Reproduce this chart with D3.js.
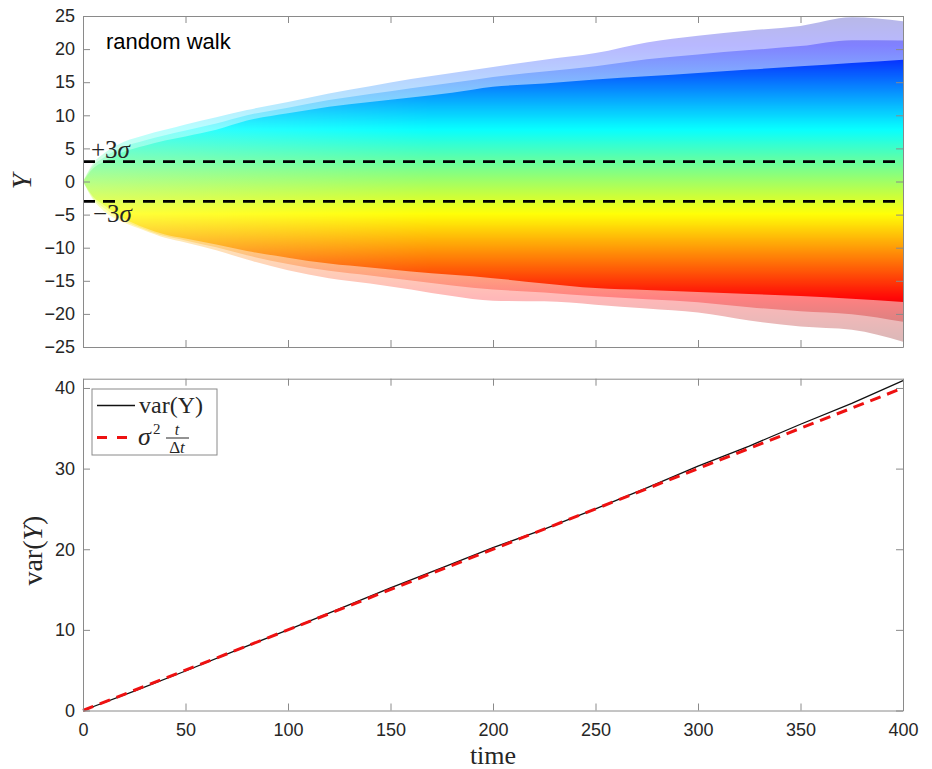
<!DOCTYPE html>
<html>
<head>
<meta charset="utf-8">
<script src="https://d3js.org/d3.v7.min.js"></script>
<style>
  body { margin: 0; background: #fff; }
  .tick text { fill: #262626; font-family: "Liberation Sans", Arial, sans-serif; font-size: 18px; }
  .tick line, .domain { stroke: #8a8a8a; }
  .serif { font-family: "Liberation Serif", "Times New Roman", serif; fill: #262626; }
</style>
</head>
<body>
<script>

// ---- data ----
// time grid used for the fan of random-walk paths
var tGrid = [0, 5, 10, 20, 30, 40, 50, 65, 80, 100, 120, 140, 160, 180, 200, 225, 250, 275, 300, 325, 350, 375, 400];
// outermost paths (sparse lines)
var upperMax = [0, 2.8, 4.2, 6.0, 7.0, 7.8, 8.6, 9.7, 10.8, 12.0, 13.3, 14.4, 15.5, 16.4, 17.3, 18.4, 19.4, 21.0, 22.0, 22.8, 23.5, 24.8, 24.2];
var lowerMin = [0, -2.8, -4.4, -6.2, -7.4, -8.5, -9.2, -10.4, -11.8, -13.4, -14.6, -15.4, -16.3, -17.3, -18.0, -18.1, -18.6, -19.2, -19.8, -21.0, -21.9, -22.4, -24.2];
// edge of the dense (solid colour) part
var upperDense = [0, 2.0, 3.0, 4.5, 5.4, 6.2, 6.8, 7.8, 9.2, 10.3, 11.3, 12.0, 12.7, 13.4, 14.3, 14.8, 15.4, 15.9, 16.4, 16.9, 17.4, 17.9, 18.4];
var lowerDense = [0, -2.3, -3.5, -5.6, -7.0, -8.0, -8.6, -9.5, -10.5, -11.5, -12.4, -13.0, -13.6, -14.1, -14.6, -15.4, -16.1, -16.4, -16.7, -17.0, -17.3, -17.7, -18.2];
// colour limits of the jet map (final values, top -> bottom)
var colorLimits = [27, -24];
var sigmaLevels = [3, -3];

// variance panel
var varTime = [0, 25, 50, 75, 100, 125, 150, 175, 200, 225, 250, 275, 300, 325, 350, 375, 400];
var varY = [0, 2.4, 4.9, 7.5, 10.0, 12.6, 15.2, 17.7, 20.2, 22.5, 25.0, 27.6, 30.3, 32.8, 35.5, 38.1, 40.9];
var theoryTime = [0, 400];
var theoryVar = [0, 40];

var xTicks = [0, 50, 100, 150, 200, 250, 300, 350, 400];
var yTicksTop = [-25, -20, -15, -10, -5, 0, 5, 10, 15, 20, 25];
var yTicksBot = [0, 10, 20, 30, 40];

// jet colormap stops
var jetStops = [[0, "#000080"], [0.125, "#0000ff"], [0.375, "#00ffff"], [0.625, "#ffff00"], [0.875, "#ff0000"], [1, "#800000"]];

// ---- layout ----
var W = 932, H = 769;
var left = 83, right = 903;
var topPanel = {t: 16, b: 347};
var botPanel = {t: 378.7, b: 710.5};

var svg = d3.select("body").append("svg")
    .attr("width", W)
    .attr("height", H);

var x = d3.scaleLinear().domain([0, 400]).range([left, right]);
var yTop = d3.scaleLinear().domain([-25, 25]).range([topPanel.b, topPanel.t]);
var yBot = d3.scaleLinear().domain([0, 41.15]).range([botPanel.b, botPanel.t]);

var defs = svg.append("defs");

// vertical jet gradient mapped onto Y values
var grad = defs.append("linearGradient")
    .attr("id", "jet")
    .attr("gradientUnits", "userSpaceOnUse")
    .attr("x1", 0).attr("x2", 0)
    .attr("y1", yTop(colorLimits[0]))
    .attr("y2", yTop(colorLimits[1]));
jetStops.forEach(function(s) {
  grad.append("stop").attr("offset", s[0]).attr("stop-color", s[1]);
});

// fade the dense part near the start (mixed thin lines look paler there)
var fade = defs.append("linearGradient")
    .attr("id", "fade")
    .attr("gradientUnits", "userSpaceOnUse")
    .attr("x1", x(0)).attr("x2", x(170))
    .attr("y1", 0).attr("y2", 0);
fade.append("stop").attr("offset", 0).attr("stop-color", "#fff").attr("stop-opacity", 0.5);
fade.append("stop").attr("offset", 1).attr("stop-color", "#fff").attr("stop-opacity", 0.95);
defs.append("mask").attr("id", "fadeMask")
  .append("rect")
    .attr("x", 0).attr("y", 0).attr("width", W).attr("height", H)
    .attr("fill", "url(#fade)");

defs.append("clipPath").attr("id", "clipTop")
  .append("rect")
    .attr("x", left).attr("y", topPanel.t)
    .attr("width", right - left).attr("height", topPanel.b - topPanel.t);

// ---- top panel: random walk fan ----
var fan = svg.append("g").attr("clip-path", "url(#clipTop)");

function band(hi, lo) {
  return d3.area()
      .curve(d3.curveMonotoneX)
      .x(function(d, i) { return x(tGrid[i]); })
      .y0(function(d, i) { return yTop(lo[i]); })
      .y1(function(d, i) { return yTop(hi[i]); })(tGrid);
}

var midUp = upperMax.map(function(v, i) { return (v + upperDense[i]) / 2; });
var midLo = lowerMin.map(function(v, i) { return (v + lowerDense[i]) / 2; });

fan.append("path")
    .attr("d", band(upperMax, lowerMin))
    .attr("fill", "url(#jet)")
    .attr("opacity", 0.28);
fan.append("path")
    .attr("d", band(midUp, midLo))
    .attr("fill", "url(#jet)")
    .attr("opacity", 0.3);
fan.append("path")
    .attr("d", band(upperDense, lowerDense))
    .attr("fill", "url(#jet)")
    .attr("mask", "url(#fadeMask)");

// +-3 sigma lines
svg.selectAll(".sig")
    .data(sigmaLevels)
  .enter().append("line")
    .attr("x1", left).attr("x2", right)
    .attr("y1", function(d) { return yTop(d); })
    .attr("y2", function(d) { return yTop(d); })
    .attr("stroke", "#000")
    .attr("stroke-width", 2.6)
    .attr("stroke-dasharray", "12,8");

// axes of top panel (ticks point inward, box on)
svg.append("g")
    .attr("transform", "translate(" + left + ",0)")
    .call(d3.axisLeft(yTop).tickValues(yTicksTop).tickSizeInner(-7).tickSizeOuter(0).tickPadding(8));
svg.append("g")
    .attr("transform", "translate(" + right + ",0)")
    .call(d3.axisRight(yTop).tickValues(yTicksTop).tickSizeInner(-7).tickSizeOuter(0).tickFormat(""));
svg.append("g")
    .attr("transform", "translate(0," + topPanel.b + ")")
    .call(d3.axisBottom(x).tickValues(xTicks).tickSizeInner(-7).tickSizeOuter(0).tickFormat(""));
svg.append("g")
    .attr("transform", "translate(0," + topPanel.t + ")")
    .call(d3.axisTop(x).tickValues(xTicks).tickSizeInner(-7).tickSizeOuter(0).tickFormat(""));

svg.append("text")
    .attr("x", 106).attr("y", 49)
    .style("font-family", "'Liberation Sans', Arial, sans-serif")
    .style("font-size", "22px")
    .attr("fill", "#000")
    .text("random walk");

var plus = svg.append("text").attr("class", "serif")
    .attr("x", 91).attr("y", 158)
    .style("font-size", "25px");
plus.append("tspan").text("+3");
plus.append("tspan").style("font-style", "italic").text("σ");

var minus = svg.append("text").attr("class", "serif")
    .attr("x", 93).attr("y", 222)
    .style("font-size", "25px");
minus.append("tspan").text("−3");
minus.append("tspan").style("font-style", "italic").text("σ");

svg.append("text").attr("class", "serif")
    .attr("transform", "translate(31," + yTop(0) + ") rotate(-90)")
    .style("text-anchor", "middle")
    .style("font-size", "28px")
    .style("font-style", "italic")
    .text("Y");

// ---- bottom panel: variance ----
var varLine = d3.line()
    .x(function(d) { return x(d[0]); })
    .y(function(d) { return yBot(d[1]); });

svg.append("path")
    .datum(d3.zip(varTime, varY))
    .attr("fill", "none")
    .attr("stroke", "#111")
    .attr("stroke-width", 1.3)
    .attr("d", varLine);

svg.append("path")
    .datum(d3.zip(theoryTime, theoryVar))
    .attr("fill", "none")
    .attr("stroke", "#ee1111")
    .attr("stroke-width", 3)
    .attr("stroke-dasharray", "11,7")
    .attr("d", varLine);

svg.append("g")
    .attr("transform", "translate(" + left + ",0)")
    .call(d3.axisLeft(yBot).tickValues(yTicksBot).tickSizeInner(-7).tickSizeOuter(0).tickPadding(8));
svg.append("g")
    .attr("transform", "translate(" + right + ",0)")
    .call(d3.axisRight(yBot).tickValues(yTicksBot).tickSizeInner(-7).tickSizeOuter(0).tickFormat(""));
svg.append("g")
    .attr("transform", "translate(0," + botPanel.b + ")")
    .call(d3.axisBottom(x).tickValues(xTicks).tickSizeInner(-7).tickSizeOuter(0).tickPadding(13));
svg.append("g")
    .attr("transform", "translate(0," + botPanel.t + ")")
    .call(d3.axisTop(x).tickValues(xTicks).tickSizeInner(-7).tickSizeOuter(0).tickFormat(""));

var vlab = svg.append("text").attr("class", "serif")
    .attr("transform", "translate(42," + ((botPanel.t + botPanel.b) / 2 + 6) + ") rotate(-90)")
    .style("text-anchor", "middle")
    .style("font-size", "28px");
vlab.append("tspan").text("var(");
vlab.append("tspan").style("font-style", "italic").text("Y");
vlab.append("tspan").text(")");

svg.append("text").attr("class", "serif")
    .attr("x", (left + right) / 2).attr("y", 764)
    .style("text-anchor", "middle")
    .style("font-size", "26px")
    .text("time");

// legend
var lg = svg.append("g");
lg.append("rect")
    .attr("x", 92).attr("y", 389).attr("width", 125).attr("height", 66)
    .attr("fill", "#fff").attr("stroke", "#8a8a8a");
lg.append("line")
    .attr("x1", 97).attr("x2", 135).attr("y1", 405.5).attr("y2", 405.5)
    .attr("stroke", "#111").attr("stroke-width", 1.3);
lg.append("text").attr("class", "serif")
    .attr("x", 139).attr("y", 413)
    .style("font-size", "24px")
    .text("var(Y)");
lg.append("line")
    .attr("x1", 97).attr("x2", 127).attr("y1", 437.5).attr("y2", 437.5)
    .attr("stroke", "#ee1111").attr("stroke-width", 3)
    .attr("stroke-dasharray", "10,10");
lg.append("text").attr("class", "serif")
    .attr("x", 138).attr("y", 445)
    .style("font-size", "26px").style("font-style", "italic")
    .text("σ");
lg.append("text").attr("class", "serif")
    .attr("x", 153).attr("y", 434)
    .style("font-size", "15px")
    .text("2");
lg.append("text").attr("class", "serif")
    .attr("x", 177).attr("y", 435)
    .style("text-anchor", "middle")
    .style("font-size", "16px").style("font-style", "italic")
    .text("t");
lg.append("line")
    .attr("x1", 166).attr("x2", 189).attr("y1", 438).attr("y2", 438)
    .attr("stroke", "#262626").attr("stroke-width", 1);
var dt = lg.append("text").attr("class", "serif")
    .attr("x", 177).attr("y", 453)
    .style("text-anchor", "middle")
    .style("font-size", "17px");
dt.append("tspan").text("Δ");
dt.append("tspan").style("font-style", "italic").text("t");

</script>
</body>
</html>
